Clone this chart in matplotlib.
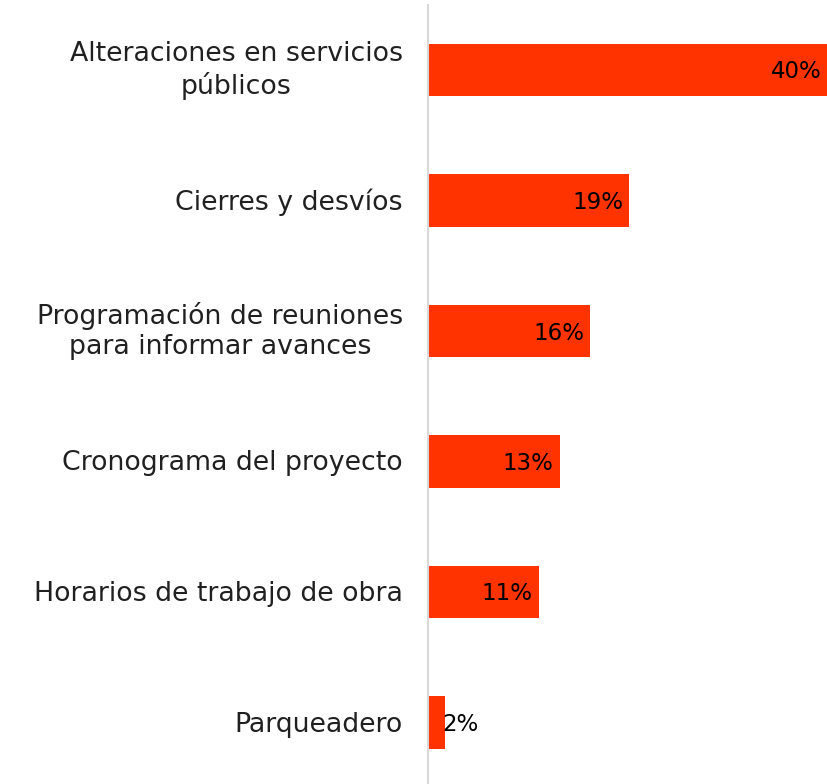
import matplotlib
matplotlib.use("Agg")
import matplotlib.pyplot as plt
from matplotlib.transforms import offset_copy

categories = [
    "Alteraciones en servicios\npúblicos",
    "Cierres y desvíos",
    "Programación de reuniones\npara informar avances",
    "Cronograma del proyecto",
    "Horarios de trabajo de obra",
    "Parqueadero",
]
values = [40.0, 19.9, 16.05, 13.0, 10.95, 1.66]
value_labels = ["40%", "19%", "16%", "13%", "11%", "2%"]

bar_color = "#FF3300"
font = "DejaVu Sans"

W, H = 828, 784
fig = plt.figure(figsize=(W / 100, H / 100), dpi=100)
left = 428.5 / W
top_px, bot_px = 4.75, 787.75
ax = fig.add_axes([left, (H - bot_px) / H, 1 - left, (bot_px - top_px) / H])

y = list(range(len(categories)))
ax.barh(y, values, height=0.4, color=bar_color)
ax.set_ylim(len(categories) - 0.5, -0.5)
ax.set_xlim(0, 39.62)

ax.set_yticks(y)
ax.set_yticklabels(categories, fontsize=19.3, family=font, color="#202020",
                   linespacing=1.22, ha="center")
ax.tick_params(axis="y", length=0, pad=0)
ax.set_xticks([])

for s in ["top", "right", "bottom"]:
    ax.spines[s].set_visible(False)
ax.spines["left"].set_color("#D9D9D9")
ax.spines["left"].set_linewidth(1.5)

for yi, v, lab in zip(y, values, value_labels):
    if v < 5:
        tr = offset_copy(ax.transData, fig=fig, x=-3, y=-2, units="dots")
        ax.text(v, yi, lab, transform=tr, ha="left", va="center",
                fontsize=16.5, family=font, color="#000000", clip_on=False)
    else:
        tr = offset_copy(ax.transData, fig=fig, x=-6, y=-2, units="dots")
        ax.text(min(v, 39.62), yi, lab, transform=tr, ha="right", va="center",
                fontsize=16.5, family=font, color="#000000", clip_on=False)

fig.canvas.draw()
renderer = fig.canvas.get_renderer()
for lab in ax.get_yticklabels():
    bb = lab.get_window_extent(renderer)
    w = bb.width
    dy = 5 if "\n" in lab.get_text() else 1
    lab.set_horizontalalignment("center")
    tr = offset_copy(ax.get_yaxis_transform(), fig=fig, x=-(428.5 - 403) - w / 2, y=dy, units="dots")
    lab.set_transform(tr)

fig.savefig("out.png", dpi=100)
